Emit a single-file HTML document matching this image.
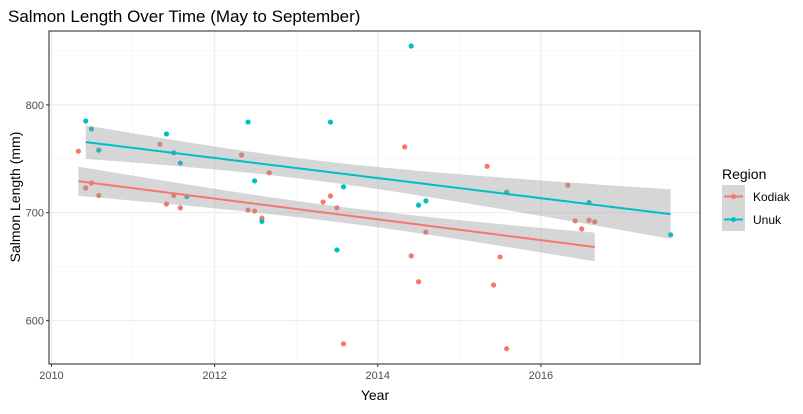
<!DOCTYPE html>
<html><head><meta charset="utf-8"><style>
body{margin:0;background:#fff;}
svg text{font-family:"Liberation Sans",Arial,sans-serif;}
</style></head><body>
<svg id="chart" width="803" height="409" xmlns="http://www.w3.org/2000/svg">
<rect width="803" height="409" fill="#fff"/>
<text x="8" y="22" font-size="17" fill="#000">Salmon Length Over Time (May to September)</text>
<text transform="translate(20,197) rotate(-90)" text-anchor="middle" font-size="14" fill="#000">Salmon Length (mm)</text>
<text x="375" y="400" text-anchor="middle" font-size="14" fill="#000">Year</text>
<g id="grid"></g><g id="pts"></g><g id="bands"></g><g id="lines"></g><g id="axes"></g>
<g>
<text x="722" y="179" font-size="14" fill="#000">Region</text>
<g>
<rect x="722" y="185" width="23" height="23" fill="#d6d6d6"/>
<line x1="724" y1="196.5" x2="743" y2="196.5" stroke="#F8766D" stroke-width="2"/>
<circle cx="733.5" cy="196.5" r="2.5" fill="#F8766D"/>
<text x="753" y="201" font-size="12" fill="#000">Kodiak</text></g>
<g>
<rect x="722" y="208" width="23" height="23" fill="#d6d6d6"/>
<line x1="724" y1="219.5" x2="743" y2="219.5" stroke="#00BFC4" stroke-width="2"/>
<circle cx="733.5" cy="219.5" r="2.5" fill="#00BFC4"/>
<text x="753" y="224" font-size="12" fill="#000">Unuk</text></g>
</g>
</svg>
<script>
const kodiakX=[2010.33,2010.42,2010.49,2010.58,2011.33,2011.41,2011.50,2011.58,2012.33,2012.41,2012.49,2012.58,2012.67,2013.33,2013.42,2013.50,2013.58,2014.33,2014.41,2014.50,2014.59,2015.34,2015.42,2015.50,2015.58,2016.33,2016.42,2016.50,2016.59,2016.66];
const kodiakY=[757,723,727.5,716,763.5,708,716,704.5,753.5,702.5,701.5,695,737,710,715.5,704.5,578.5,761,660,636,682,743,633,659,574,725.5,692.5,685,693,691.5];
const unukX=[2010.42,2010.49,2010.58,2011.41,2011.50,2011.58,2011.66,2012.41,2012.49,2012.58,2013.42,2013.50,2013.58,2014.41,2014.50,2014.59,2015.58,2016.59,2017.59];
const unukY=[785,777.5,758,773,755.5,746,715,784,729.5,692,784,665.5,724,854.5,707,711,719,709.5,679.5];
const xTicks=[2010,2012,2014,2016];
const xMinor=[2011,2013,2015,2017];
const yTicks=[600,700,800];
const yMinor=[650,750,850];
const NS="http://www.w3.org/2000/svg";
const L=49,R=700,T=31,B=364;
const xMin=2009.97,xMax=2017.95,yMin=559.8,yMax=868.4;
const SE_SCALE=0.45;
const sx=v=>L+(v-xMin)/(xMax-xMin)*(R-L);
const sy=v=>B-(v-yMin)/(yMax-yMin)*(B-T);
function mk(tag,attrs,parent){const e=document.createElementNS(NS,tag);for(const k in attrs)e.setAttribute(k,attrs[k]);document.getElementById(parent).appendChild(e);return e;}
mk('rect',{x:L,y:T,width:R-L,height:B-T,fill:'#fff'},'grid');
xMinor.forEach(v=>{const e=mk('line',{x1:sx(v),x2:sx(v),y1:T,y2:B,stroke:'#f2f2f2','stroke-width':0.6},'grid');

});
yMinor.forEach(v=>{const e=mk('line',{x1:L,x2:R,y1:sy(v),y2:sy(v),stroke:'#f2f2f2','stroke-width':0.6},'grid');

});
xTicks.forEach(v=>{const e=mk('line',{x1:sx(v),x2:sx(v),y1:T,y2:B,stroke:'#ebebeb','stroke-width':1.1},'grid');


const t=mk('line',{x1:sx(v),x2:sx(v),y1:B,y2:B+3,stroke:'#333','stroke-width':1},'axes');


const l=mk('text',{x:sx(v),y:B+15,'text-anchor':'middle','font-size':11,fill:'#4d4d4d'},'axes');l.textContent=v;

});
yTicks.forEach(v=>{const e=mk('line',{x1:L,x2:R,y1:sy(v),y2:sy(v),stroke:'#ebebeb','stroke-width':1.1},'grid');


const t=mk('line',{x1:L-3,x2:L,y1:sy(v),y2:sy(v),stroke:'#333','stroke-width':1},'axes');


const l=mk('text',{x:L-5,y:sy(v)+4,'text-anchor':'end','font-size':11,fill:'#4d4d4d'},'axes');l.textContent=v;

});
const border=mk('rect',{x:L,y:T,width:R-L,height:B-T,fill:'none',stroke:'#333','stroke-width':1.1},'axes');


function tq(df){const z=1.959964;return z+(z**3+z)/(4*df)+(5*z**5+16*z**3+3*z)/(96*df*df);}
function series(xs,ys,color,name){
  xs.forEach((x,i)=>{const c=mk('circle',{cx:sx(x),cy:sy(ys[i]),r:2.6,fill:color},'pts');
  
  });
  const n=xs.length,mx=xs.reduce((a,b)=>a+b)/n,my=ys.reduce((a,b)=>a+b)/n;
  let sxx=0,sxy=0;xs.forEach((x,i)=>{sxx+=(x-mx)**2;sxy+=(x-mx)*(ys[i]-my);});
  const b=sxy/sxx,a=my-b*mx;let sse=0;xs.forEach((x,i)=>{sse+=(ys[i]-a-b*x)**2;});
  const s=Math.sqrt(sse/(n-2)),t=tq(n-2);
  const x0=Math.min(...xs),x1=Math.max(...xs);const up=[],lo=[],ln=[];
  for(let k=0;k<=80;k++){const x=x0+(x1-x0)*k/80,f=a+b*x,se=SE_SCALE*s*Math.sqrt(1/n+(x-mx)**2/sxx);
    up.push(sx(x).toFixed(2)+','+sy(f+t*se).toFixed(2));lo.push(sx(x).toFixed(2)+','+sy(f-t*se).toFixed(2));ln.push(sx(x).toFixed(2)+','+sy(f).toFixed(2));}
  lo.reverse();
  const p=mk('polygon',{points:up.concat(lo).join(' '),fill:'#999999','fill-opacity':0.4},'bands');
  
  
  const l=mk('polyline',{points:ln.join(' '),fill:'none',stroke:color,'stroke-width':2},'lines');
  
  
}
series(kodiakX,kodiakY,'#F8766D','kodiak');
series(unukX,unukY,'#00BFC4','unuk');
</script>
</body></html>
